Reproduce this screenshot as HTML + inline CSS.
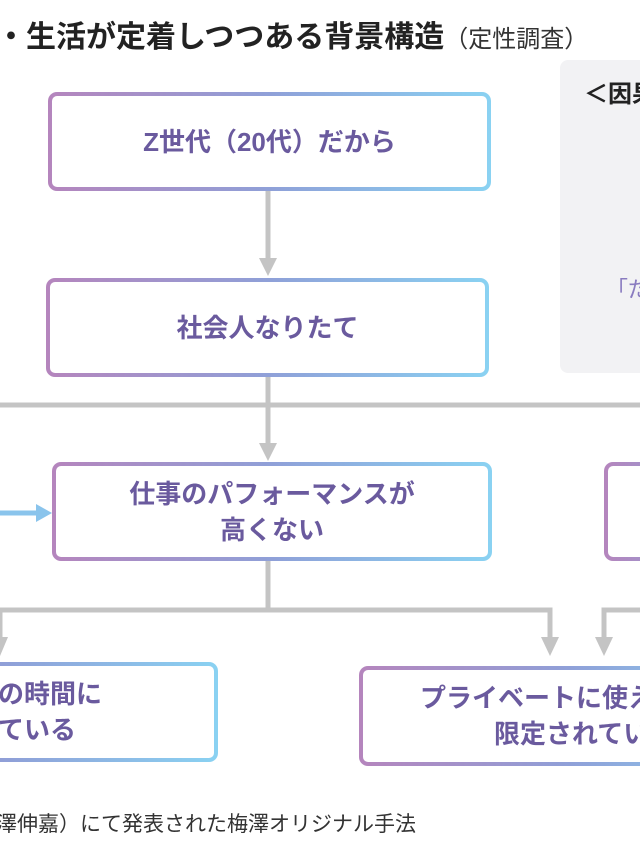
<!DOCTYPE html>
<html><head><meta charset="utf-8"><style>
html,body{margin:0;padding:0}
body{width:640px;height:853px;background:#fff;overflow:hidden;font-family:"Liberation Sans","Noto Sans CJK JP",sans-serif}
#w{position:relative;width:640px;height:853px;overflow:hidden}
.b{position:absolute;box-sizing:border-box;border:4px solid transparent;border-radius:9px;background:linear-gradient(#fff,#fff) padding-box,linear-gradient(90deg,#b585bd,#8fa0d8 50%,#8ad2f2) border-box;display:flex;align-items:center;justify-content:center;text-align:center;color:#6a5a9e;font-weight:bold;font-size:26px;line-height:36px;white-space:nowrap}
.t{position:absolute;white-space:nowrap}
.p{position:absolute;white-space:nowrap;color:#6a5a9e;font-weight:bold;font-size:26px;line-height:36px}
</style></head><body><div id="w">
<div class="t" style="left:-4px;top:12px;font-size:30px;font-weight:bold;color:#222">・生活が定着しつつある背景構造<span style="font-weight:normal;font-size:24px;color:#333">（定性調査）</span></div>
<div style="position:absolute;left:560px;top:60px;width:100px;height:313px;background:#f2f2f4;border-radius:8px"></div>
<div class="t" style="left:584px;top:74px;font-size:24px;font-weight:bold;color:#222">＜因果</div>
<div class="t" style="left:606px;top:272px;font-size:22px;color:#8a7cc0">「だ</div>
<svg width="640" height="853" style="position:absolute;left:0;top:0">
<g stroke="#c4c4c4" stroke-width="5" fill="none">
<line x1="268" y1="190" x2="268" y2="262"/>
<line x1="268" y1="376" x2="268" y2="446"/>
<line x1="0" y1="405" x2="640" y2="405"/>
<line x1="268" y1="560" x2="268" y2="610"/>
<polyline points="0,610 550,610 550,640"/>
<polyline points="640,610 604,610 604,640"/>
<line x1="0" y1="610" x2="0" y2="640"/>
</g>
<g fill="#c4c4c4">
<polygon points="259,258 277,258 268,276"/>
<polygon points="259,443 277,443 268,461"/>
<polygon points="541,637 559,637 550,656"/>
<polygon points="595,637 613,637 604,656"/>
<polygon points="-8,637 8,637 0,656"/>
</g>
<line x1="0" y1="513" x2="38" y2="513" stroke="#8ac4ec" stroke-width="5"/>
<polygon points="36,504 52,513 36,522" fill="#8ac4ec"/>
</svg>
<div class="b" style="left:48px;top:92px;width:443px;height:99px">Z世代（20代）だから</div>
<div class="b" style="left:46px;top:278px;width:443px;height:99px">社会人なりたて</div>
<div class="b" style="left:52px;top:462px;width:440px;height:99px">仕事のパフォーマンスが<br>高くない</div>
<div class="b" style="left:604px;top:462px;width:200px;height:99px"></div>
<div class="b" style="left:-200px;top:662px;width:418px;height:100px"></div>
<div class="p" style="left:-2px;top:676px">の時間に</div>
<div class="p" style="left:-2px;top:712px">ている</div>
<div class="b" style="left:359px;top:666px;width:420px;height:100px"></div>
<div class="p" style="left:420px;top:680px">プライベートに使える</div>
<div class="p" style="left:494px;top:716px">限定されてい</div>
<div class="t" style="left:-4px;top:808px;font-size:21px;color:#333">澤伸嘉）にて発表された梅澤オリジナル手法</div>
</div></body></html>
